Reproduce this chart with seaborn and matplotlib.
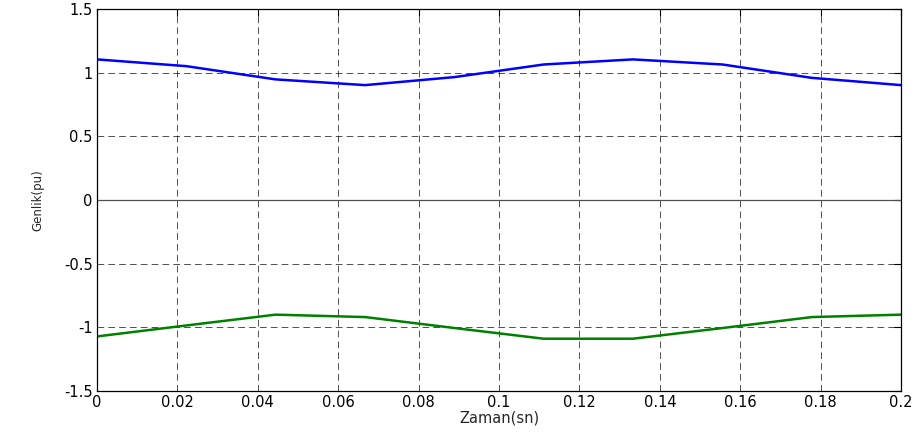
import numpy as np
import pandas as pd
import matplotlib
matplotlib.use('Agg')
import matplotlib.pyplot as plt
import seaborn as sns

# zaman ekseni (10 nokta) ve iki genlik serisi
zaman = [0.0, 0.0222, 0.0444, 0.0667, 0.0889, 0.1111, 0.1333, 0.1556, 0.1778, 0.2]
genlik_mavi = [1.105, 1.052, 0.948, 0.903, 0.966, 1.065, 1.105, 1.065, 0.960, 0.903]
genlik_yesil = [-1.071, -0.985, -0.900, -0.919, -1.005, -1.089, -1.089, -1.005, -0.919, -0.900]
sifir = [0.0] * len(zaman)

x_ticks = [0, 0.02, 0.04, 0.06, 0.08, 0.1, 0.12, 0.14, 0.16, 0.18, 0.2]
x_labels = ['0', '0.02', '0.04', '0.06', '0.08', '0.1', '0.12', '0.14', '0.16', '0.18', '0.2']
y_ticks = [-1.5, -1, -0.5, 0, 0.5, 1, 1.5]
y_labels = ['-1.5', '-1', '-0.5', '0', '0.5', '1', '1.5']

df = pd.DataFrame({'Zaman': zaman, 'mavi': genlik_mavi, 'yesil': genlik_yesil, 'sifir': sifir})

sns.set_style('white')
plt.rcParams['font.family'] = ['DejaVu Sans']

fig = plt.figure(figsize=(9.17, 4.34), dpi=100)
ax = fig.add_axes([0.1058, 0.099, 0.8768, 0.880])

sns.lineplot(data=df, x='Zaman', y='sifir', ax=ax, color='#505050', linewidth=0.9)
sns.lineplot(data=df, x='Zaman', y='mavi', ax=ax, color='#0000ff', linewidth=1.8)
sns.lineplot(data=df, x='Zaman', y='yesil', ax=ax, color='#008000', linewidth=1.8)

ax.set_xlim(0, 0.2)
ax.set_ylim(-1.5, 1.5)
ax.set_xticks(x_ticks)
ax.set_xticklabels(x_labels)
ax.set_yticks(y_ticks)
ax.set_yticklabels(y_labels)

ax.grid(True, color='black', linestyle=(0, (8, 5)), linewidth=0.6, alpha=0.8)
ax.tick_params(direction='in', length=5, width=0.8, top=True, right=True,
               labelsize=10.5, colors='black', pad=3)
for s in ax.spines.values():
    s.set_color('black')
    s.set_linewidth(0.9)

ax.set_xlabel('Zaman(sn)', fontsize=10.5, labelpad=0)
ax.set_ylabel('Genlik(pu)', fontsize=8.5, labelpad=14)

plt.savefig('out.png', dpi=100)
